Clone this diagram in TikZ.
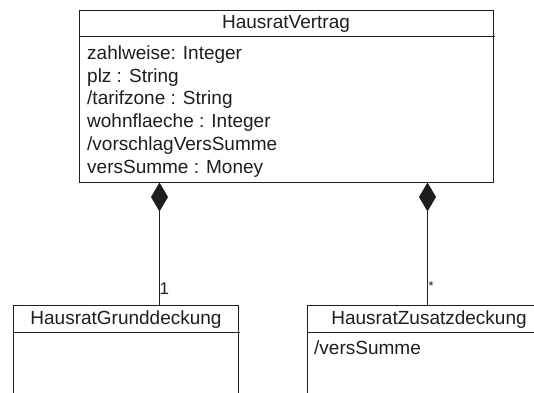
\documentclass[tikz,border=0pt]{standalone}
\usepackage{fontspec}
\setmainfont{Liberation Sans}
\usetikzlibrary{arrows.meta}
\definecolor{ink}{HTML}{1E1E1E}
\begin{document}
\begin{tikzpicture}[x=1pt,y=-1pt,
  cls/.style={draw=ink, line width=1pt, rectangle, inner sep=0pt},
  title/.style={font=\fontsize{19}{22}\selectfont, text=ink, inner sep=0pt, anchor=center},
  attr/.style={font=\fontsize{19}{22}\selectfont, text=ink, inner sep=0pt, anchor=west},
  mult/.style={font=\fontsize{17}{20}\selectfont, text=ink, inner sep=0pt},
  comp/.style={draw=ink, line width=1pt, {Diamond[length=29pt,width=17pt,line width=0pt]}-}
]
\useasboundingbox (0,0) rectangle (534,392);
\clip (0,0) rectangle (534,392);
\fill[white] (0,0) rectangle (534,392);

% HausratVertrag
\node[cls, minimum width=414pt, minimum height=172pt] (vertrag) at (286,96.5) {};
\draw[ink, line width=1pt] (79,36) -- (495,36);
\node[title] (vt) at (286,24) {HausratVertrag};
\node[attr] (a1) at (87,55) {zahlweise: Integer};
\node[attr] (a2) at (87,77.5) {plz : String};
\node[attr] (a3) at (87,100) {/tarifzone : String};
\node[attr] (a4) at (87,123) {wohnflaeche : Integer};
\node[attr] (a5) at (87,146) {/vorschlagVersSumme};
\node[attr] (a6) at (87,168.5) {versSumme : Money};

% HausratGrunddeckung
\node[cls, minimum width=225pt, minimum height=120pt, anchor=north west] (grund) at (13,305) {};
\draw[ink, line width=1pt] (13,332) -- (240,332);
\node[title] (gt) at (126,319.5) {HausratGrunddeckung};

% HausratZusatzdeckung
\node[cls, minimum width=245pt, minimum height=120pt, anchor=north west] (zusatz) at (306.5,305) {};
\draw[ink, line width=1pt] (306.5,332) -- (560,332);
\node[title] (zt) at (429,319.5) {HausratZusatzdeckung};
\node[attr] (z1) at (314,347.5) {/versSumme};

% compositions
\coordinate (c1) at (159.5,182.5);
\coordinate (c2) at (427.5,182.5);
\draw[comp] (c1) -- (c1 |- grund.north);
\draw[comp] (c2) -- (c2 |- zusatz.north);
\node[mult, anchor=west] (m1) at (159.5,288.5) {1};
\node[mult, font=\fontsize{13}{15}\selectfont, anchor=west] (m2) at (428.5,286) {*};
\end{tikzpicture}
\end{document}
